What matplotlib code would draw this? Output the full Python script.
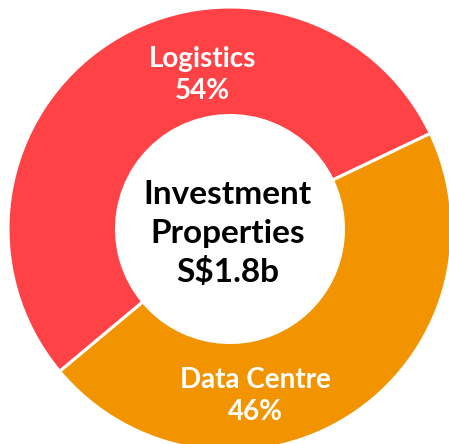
import matplotlib
matplotlib.use("Agg")
import matplotlib.pyplot as plt

categories = ["Logistics", "Data Centre"]
shares = [54, 46]
center_title = ["Investment", "Properties", "S$1.8b"]
colors = ["#FF4245", "#F29400"]

W, H = 449, 444
fig = plt.figure(figsize=(W / 100, H / 100), dpi=100)
ax = fig.add_axes([0, 0, 1, 1])

cx, cy = 230, H - 229
R = 222
r_in = 113.5

ax.pie(shares, colors=colors, startangle=25.5, counterclock=True,
       radius=R, center=(cx, cy),
       wedgeprops=dict(width=R - r_in, edgecolor="white", linewidth=2.2))

ax.set_xlim(0, W)
ax.set_ylim(0, H)
ax.set_aspect("equal")
ax.axis("off")

font = ["Lato", "DejaVu Sans"]
# centre title
for i, line in enumerate(center_title):
    ax.text(228, H - (204 + 39 * i), line, ha="center", va="baseline",
            fontsize=24, fontweight="bold", color="black", family=font)

# segment labels
label_pos = [(202, 67, 99), (255, 388, 420)]
for (name, val), (x, y1, y2) in zip(zip(categories, shares), label_pos):
    ax.text(x, H - y1, name, ha="center", va="baseline",
            fontsize=20, fontweight="bold", color="white", family=font)
    ax.text(x, H - y2, f"{val}%", ha="center", va="baseline",
            fontsize=20, fontweight="bold", color="white", family=font)

fig.savefig("out.png", dpi=100, facecolor="white")
